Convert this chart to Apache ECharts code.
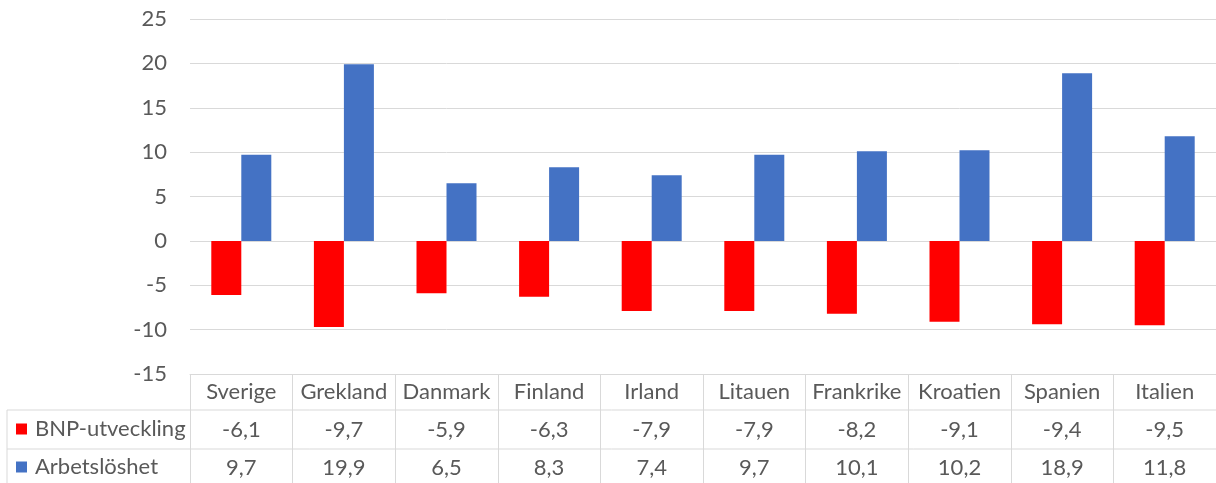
<!DOCTYPE html>
<html><head><meta charset="utf-8">
<script src="https://cdn.jsdelivr.net/npm/echarts@6/dist/echarts.min.js"></script>
<style>html,body{margin:0;padding:0;background:#fff}#c{width:1216px;height:483px}</style>
</head><body><div id="c"></div>
<script>
const categories = ['Sverige','Grekland','Danmark','Finland','Irland','Litauen','Frankrike','Kroatien','Spanien','Italien'];
const bnp = [-6.1,-9.7,-5.9,-6.3,-7.9,-7.9,-8.2,-9.1,-9.4,-9.5];
const arbetsloshet = [9.7,19.9,6.5,8.3,7.4,9.7,10.1,10.2,18.9,11.8];
const seriesNames = ['BNP-utveckling','Arbetslöshet'];
const yMin = -15, yMax = 25, yInterval = 5;

const FONT = 'Lato';
const FS = 22;
const TXT = '#595959';
const LINE = '#d9d9d9';
const fmt = v => v.toFixed(1).replace('.', ',');

const G = {left:190, top:19, width:1038, height:355};
const rowH = 38;

function tableAxis(offset, values, showTick) {
  return {
    type:'category', data:categories, gridIndex:0, position:'bottom', offset:offset,
    axisLine:{show: offset===0, onZero:false, lineStyle:{color:LINE}},
    axisTick:{show: showTick, length:109, lineStyle:{color:LINE}},
    axisLabel:{
      color:TXT, fontFamily:FONT, fontSize:FS, margin:7, interval:0,
      formatter: values ? ((v, i) => fmt(values[i])) : (v => v)
    },
    splitLine:{show:false}
  };
}

const chart = echarts.init(document.getElementById('c'), null, {renderer:'canvas'});
const bottomY = G.top + G.height;
chart.setOption({
  animation:false,
  grid:{left:G.left, top:G.top, width:G.width, height:G.height, containLabel:false},
  legend:{
    orient:'vertical', left:16, top:bottomY + 44, padding:0, height:120,
    itemWidth:11, itemHeight:11, itemGap:16,
    icon:'rect',
    textStyle:{color:TXT, fontFamily:FONT, fontSize:FS, lineHeight:22, padding:[0,0,0,3]},
    data:seriesNames
  },
  xAxis:[
    tableAxis(0, null, true),
    tableAxis(rowH, bnp, false),
    tableAxis(rowH*2, arbetsloshet, false)
  ],
  yAxis:{
    type:'value', min:yMin, max:yMax, interval:yInterval,
    axisLine:{show:false}, axisTick:{show:false},
    axisLabel:{color:TXT, fontFamily:FONT, fontSize:FS, margin:23},
    splitLine:{lineStyle:{color:LINE, width:1}}
  },
  series:[
    {name:seriesNames[0], type:'bar', data:bnp, barWidth:30, barGap:'0%', itemStyle:{color:'#ff0000'}, xAxisIndex:0},
    {name:seriesNames[1], type:'bar', data:arbetsloshet, barWidth:30, barGap:'0%', itemStyle:{color:'#4472c4'}, xAxisIndex:0}
  ],
  graphic:[
    {type:'line', shape:{x1:7, y1:bottomY+36, x2:1216, y2:bottomY+36}, style:{stroke:LINE, lineWidth:1}},
    {type:'line', shape:{x1:7, y1:bottomY+75, x2:1216, y2:bottomY+75}, style:{stroke:LINE, lineWidth:1}},
    {type:'line', shape:{x1:7, y1:bottomY+36, x2:7, y2:483}, style:{stroke:LINE, lineWidth:1}}
  ]
});
</script></body></html>
